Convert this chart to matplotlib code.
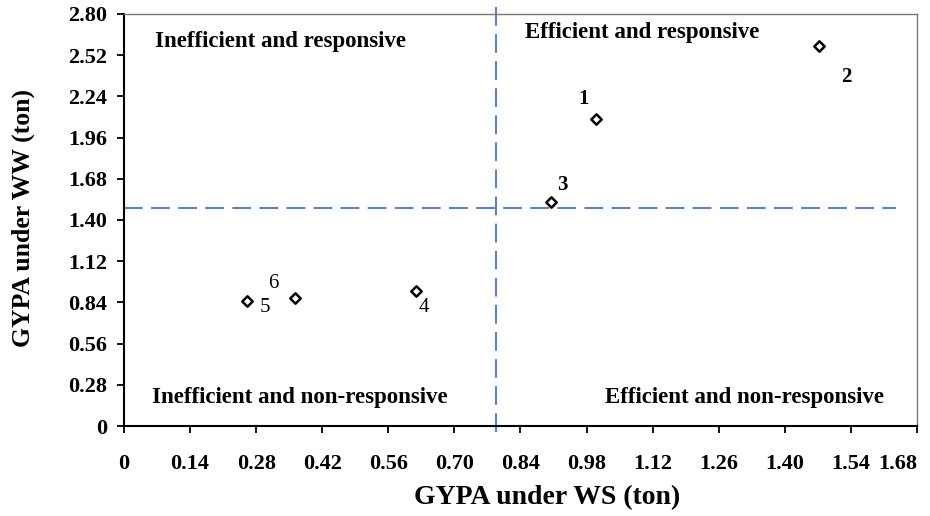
import matplotlib
matplotlib.use('Agg')
import matplotlib.pyplot as plt

plt.rcParams['font.family'] = ['Liberation Serif', 'DejaVu Serif']
plt.rcParams['font.weight'] = 'bold'

# GYPA values per genotype
labels = ['1', '2', '3', '4', '5', '6']
gypa_ws = [1.00, 1.472, 0.905, 0.619, 0.26, 0.362]
gypa_ww = [2.088, 2.585, 1.524, 0.918, 0.85, 0.87]
label_bold = [True, True, True, False, False, False]
label_offsets = [(-12, 20), (28, -31), (11, 17), (8, -17), (18, -7), (-22, 14)]

# mean lines splitting the quadrants
mean_ws = 0.788
mean_ww = 1.483

xticks = [0, 0.14, 0.28, 0.42, 0.56, 0.70, 0.84, 0.98, 1.12, 1.26, 1.40, 1.54, 1.68]
yticks = [0, 0.28, 0.56, 0.84, 1.12, 1.40, 1.68, 1.96, 2.24, 2.52, 2.80]

fig = plt.figure(figsize=(9.3, 5.16), dpi=100)
ax = fig.add_axes([0.1333, 0.1744, 0.8527, 0.7985])

line_col = '#5f82bd'
ax.plot([mean_ws, mean_ws], [-0.04, 2.86], linestyle=(0, (9, 4)), color=line_col, lw=1.5, clip_on=False, zorder=1)
ax.plot([0, 1.635], [mean_ww, mean_ww], linestyle=(0, (9, 4)), color=line_col, lw=1.5, clip_on=False, zorder=1)

ax.scatter(gypa_ws, gypa_ww, marker='D', s=28, facecolor='white', edgecolor='black', linewidths=1.8, zorder=3)

for i in range(len(labels)):
	ax.annotate(labels[i], (gypa_ws[i], gypa_ww[i]), xytext=label_offsets[i], textcoords='offset pixels',
		ha='center', va='center', fontsize=15, fontweight='bold' if label_bold[i] else 'normal')

qfont = 16.5
ax.text(0.197, 0.934, 'Inefficient and responsive', transform=ax.transAxes, ha='center', va='center', fontsize=qfont, fontweight='bold')
ax.text(0.654, 0.954, 'Efficient and responsive', transform=ax.transAxes, ha='center', va='center', fontsize=qfont, fontweight='bold')
ax.text(0.222, 0.068, 'Inefficient and non-responsive', transform=ax.transAxes, ha='center', va='center', fontsize=qfont, fontweight='bold')
ax.text(0.783, 0.068, 'Efficient and non-responsive', transform=ax.transAxes, ha='center', va='center', fontsize=qfont, fontweight='bold')

ax.set_xlim(0, 1.68)
ax.set_ylim(0, 2.80)
ax.set_xticks(xticks)
ax.set_xticklabels(['0'] + ['%.2f' % v for v in xticks[1:]])
ax.set_yticks(yticks)
ax.set_yticklabels(['0'] + ['%.2f' % v for v in yticks[1:]])
ax.tick_params(axis='both', labelsize=16, width=1.3, length=5, direction='out', colors='black')
ax.tick_params(axis='x', pad=15)
ax.tick_params(axis='y', pad=7)
for lab in ax.get_xticklabels() + ax.get_yticklabels():
	lab.set_fontweight('bold')
ax.get_xticklabels()[-1].set_ha('right')

ax.spines['left'].set_linewidth(1.5)
ax.spines['bottom'].set_linewidth(1.5)
ax.spines['top'].set_color('#777777')
ax.spines['right'].set_color('#777777')
ax.spines['top'].set_linewidth(1.0)
ax.spines['right'].set_linewidth(1.0)

ax.set_xlabel('GYPA under WS (ton)', fontsize=20, fontweight='bold')
ax.set_ylabel('GYPA under WW (ton)', fontsize=18.5, fontweight='bold')
ax.xaxis.set_label_coords(0.533, -0.143)
ax.yaxis.set_label_coords(-0.112, 0.505)

plt.savefig('out.png', dpi=100)
